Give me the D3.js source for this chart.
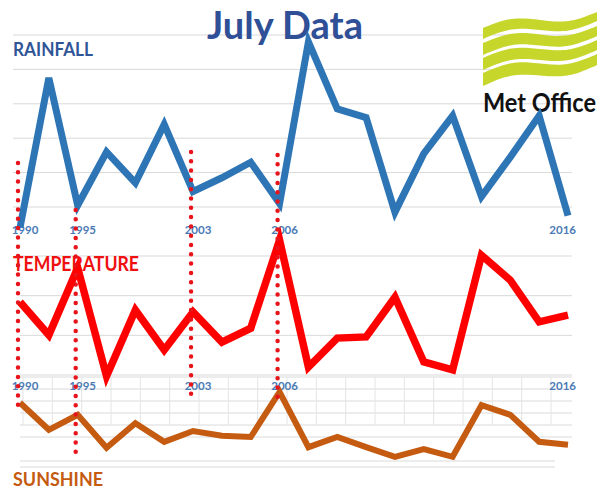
<!DOCTYPE html>
<html>
<head>
<meta charset="utf-8">
<script src="https://cdnjs.cloudflare.com/ajax/libs/d3/7.8.5/d3.min.js"></script>
<style>
  body { margin: 0; background: #fff; }
  svg { display: block; }
</style>
</head>
<body>
<div id="chart"></div>
<script>
// x categories (20 July values), only some are labelled with a year
var categories = [0, 1, 2, 3, 4, 5, 6, 7, 8, 9, 10, 11, 12, 13, 14, 15, 16, 17, 18, 19];
var yearTicks = [
  {i: 0, label: "1990"}, {i: 2, label: "1995"}, {i: 6, label: "2003"},
  {i: 9, label: "2006"}, {i: 19, label: "2016"}
];
var markedYears = [0, 2, 6, 9];

var rainfall = [8, 95, 21, 52, 34, 68, 29, 37, 46, 22, 116, 77, 72, 17, 51, 73, 26, 49, 73, 15];
var temperature = [15.84, 15.01, 16.70, 13.97, 15.64, 14.63, 15.59, 14.83, 15.18, 17.40,
                   14.20, 14.93, 14.96, 15.96, 14.33, 14.13, 17.02, 16.39, 15.34, 15.51];
var sunshine = [207, 162, 187, 132, 173, 142, 160, 152, 150, 225,
                133, 150, 133, 117, 130, 117, 203, 187, 142, 137];

var rainGrid = [20, 40, 60, 80, 100, 120];
var tempGrid = [14, 15, 16, 17];
var sunGrid = [100, 110, 150, 170, 190, 210, 230, 250];

var w = 610, h = 490;
var svg = d3.select("#chart").append("svg")
  .attr("width", w)
  .attr("height", h);

var x = d3.scalePoint().domain(categories).range([20, 568]);
var yRain = d3.scaleLinear().domain([20, 120]).range([207, 35]);
var yTemp = d3.scaleLinear().domain([14, 17]).range([375, 256]);
var ySun = d3.scaleLinear().domain([100, 250]).range([467, 377]);
// the sunshine picture was pasted with its own column grid, a bit shifted
var xSunGrid = d3.scalePoint().domain(categories.slice(0, 19)).range([23, 551]);

var font = "Lato, 'Open Sans', 'DejaVu Sans', sans-serif";

// gridlines
svg.append("g").selectAll("line")
  .data(rainGrid).enter().append("line")
  .attr("x1", 13).attr("x2", 572)
  .attr("y1", function(d) { return yRain(d); })
  .attr("y2", function(d) { return yRain(d); })
  .attr("stroke", "#d9d9d9").attr("stroke-width", 1);

svg.append("g").selectAll("line")
  .data(tempGrid).enter().append("line")
  .attr("x1", 20).attr("x2", 572)
  .attr("y1", function(d) { return yTemp(d); })
  .attr("y2", function(d) { return yTemp(d); })
  .attr("stroke", "#d9d9d9").attr("stroke-width", 1);

svg.append("g").selectAll("line")
  .data(sunGrid).enter().append("line")
  .attr("x1", 20)
  .attr("x2", function(d) { return d < 150 ? 555 : 572; })
  .attr("y1", function(d) { return ySun(d); })
  .attr("y2", function(d) { return ySun(d); })
  .attr("stroke", "#dadada").attr("stroke-width", 1);

svg.append("g").selectAll("line")
  .data(xSunGrid.domain()).enter().append("line")
  .attr("x1", function(d) { return xSunGrid(d); })
  .attr("x2", function(d) { return xSunGrid(d); })
  .attr("y1", ySun(250)).attr("y2", ySun(170))
  .attr("stroke", "#e4e4e4").attr("stroke-width", 1);

// year labels, one row under rainfall and one above sunshine
[234, 390].forEach(function(base) {
  svg.append("g").selectAll("text")
    .data(yearTicks).enter().append("text")
    .attr("x", function(d) { return d.i == 19 ? x(d.i) + 8 : x(d.i) + 5; })
    .attr("y", base)
    .attr("text-anchor", function(d) { return d.i == 19 ? "end" : "middle"; })
    .attr("font-family", font)
    .attr("font-weight", "bold")
    .attr("font-size", "11.5px")
    .attr("fill", "#4a7ab5")
    .text(function(d) { return d.label; });
});

// panel titles
svg.append("text")
  .attr("x", 13).attr("y", 56)
  .attr("font-family", font).attr("font-weight", "bold").attr("font-size", "18px")
  .attr("fill", "#2f5597")
  .attr("textLength", 80).attr("lengthAdjust", "spacingAndGlyphs")
  .text("RAINFALL");

svg.append("text")
  .attr("x", 13).attr("y", 271)
  .attr("font-family", font).attr("font-weight", "bold").attr("font-size", "20px")
  .attr("fill", "#f01010")
  .attr("textLength", 126).attr("lengthAdjust", "spacingAndGlyphs")
  .text("TEMPERATURE");

svg.append("text")
  .attr("x", 13).attr("y", 486)
  .attr("font-family", font).attr("font-weight", "bold").attr("font-size", "19px")
  .attr("fill", "#c55a11")
  .attr("textLength", 90).attr("lengthAdjust", "spacingAndGlyphs")
  .text("SUNSHINE");

svg.append("text")
  .attr("x", 285).attr("y", 39)
  .attr("text-anchor", "middle")
  .attr("font-family", font).attr("font-weight", "bold").attr("font-size", "38px")
  .attr("fill", "#2f4f97")
  .attr("textLength", 156).attr("lengthAdjust", "spacingAndGlyphs")
  .text("July Data");

// Met Office logo
var logo = svg.append("g").attr("transform", "translate(483,12)");
var bands = [
  {left: 16, right: 0, thick: 9},
  {left: 31, right: 14, thick: 10},
  {left: 46, right: 28, thick: 10},
  {left: 61, right: 42, thick: 11}
];
var ts = d3.range(0, 1.0001, 0.05);
bands.forEach(function(b) {
  var mid = function(t) { return b.left + (b.right - b.left) * t - 5 * Math.sin(2 * Math.PI * t); };
  var area = d3.area()
    .x(function(t) { return t * 114; })
    .y0(function(t) { return mid(t); })
    .y1(function(t) { return mid(t) + b.thick + 2 * (1 - t); })
    .curve(d3.curveBasis);
  logo.append("path").attr("d", area(ts)).attr("fill", "#c6d62b");
});
logo.append("text")
  .attr("x", 0).attr("y", 100)
  .attr("font-family", font).attr("font-weight", "bold").attr("font-size", "26px")
  .attr("fill", "#111")
  .attr("textLength", 113).attr("lengthAdjust", "spacingAndGlyphs")
  .text("Met Office");

// the three series
function drawLine(values, yScale, color, width) {
  var line = d3.line()
    .x(function(d, i) { return x(categories[i]); })
    .y(function(d) { return yScale(d); });
  svg.append("path")
    .attr("d", line(values))
    .attr("fill", "none")
    .attr("stroke", color)
    .attr("stroke-width", width)
    .attr("stroke-linejoin", "miter")
    .attr("stroke-miterlimit", 4);
}
drawLine(rainfall, yRain, "#2e75b6", 7);
drawLine(temperature, yTemp, "#ff0000", 7.5);
drawLine(sunshine, ySun, "#c55a11", 6);

// red dotted year markers
var markerSpans = {0: [163, 412], 2: [210, 458], 6: [152, 402], 9: [155, 403]};
svg.append("g").selectAll("line")
  .data(markedYears).enter().append("line")
  .attr("x1", function(d) { return x(d) - 2; })
  .attr("x2", function(d) { return x(d) - 2; })
  .attr("y1", function(d) { return markerSpans[d][0]; })
  .attr("y2", function(d) { return markerSpans[d][1]; })
  .attr("stroke", "#e8141b")
  .attr("stroke-width", 4.5)
  .attr("stroke-linecap", "round")
  .attr("stroke-dasharray", "0 9.3");
</script>
</body>
</html>
